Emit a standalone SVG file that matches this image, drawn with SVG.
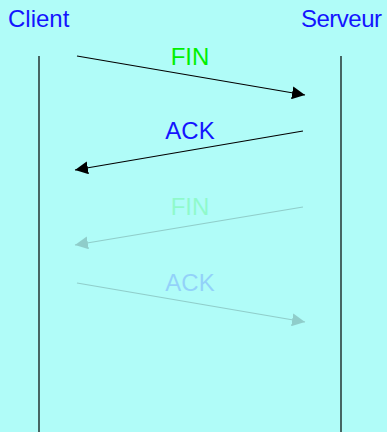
<svg xmlns="http://www.w3.org/2000/svg" width="387" height="432" viewBox="0 0 387 432">
<defs>
<marker id="ahb" viewBox="0 0 10 10" refX="10" refY="5" markerWidth="13" markerHeight="13" markerUnits="userSpaceOnUse" orient="auto">
<path d="M0,0 L10,5 L0,10 Z" fill="#000"/>
</marker>
</defs>
<style>
text{font-family:"Liberation Sans","DejaVu Sans",sans-serif;font-size:24px}
.actor{fill:#1414ff}
.fin{fill:#00f000;text-anchor:middle}
.ack{fill:#1414ff;text-anchor:middle}
.life{stroke:#000;stroke-width:1.2}
.msg{stroke:#000;stroke-width:1.2;fill:none;marker-end:url(#ahb)}
.faded{opacity:0.18}
</style>
<rect width="387" height="432" fill="#b0fcf8"/>
<g id="client"><text class="actor" x="8" y="27">Client</text></g>
<g id="serveur"><text class="actor" x="301" y="27" textLength="81">Serveur</text></g>
<g id="connectors">
<line class="life" x1="39" y1="56" x2="39" y2="432"/>
<line class="life" x1="341" y1="56" x2="341" y2="432"/>
<line class="msg" x1="77" y1="56" x2="305" y2="95"/>
<line class="msg" x1="303" y1="131" x2="75" y2="170"/>
<g class="faded">
<line class="msg" x1="303" y1="207" x2="75" y2="245"/>
<line class="msg" x1="77" y1="283" x2="305" y2="322"/>
</g>
</g>
<g id="labels">
<text class="fin" x="190" y="65">FIN</text>
<text class="ack" x="190" y="139">ACK</text>
<g class="faded">
<text class="fin" x="190" y="215">FIN</text>
<text class="ack" x="190" y="291">ACK</text>
</g>
</g>
</svg>
